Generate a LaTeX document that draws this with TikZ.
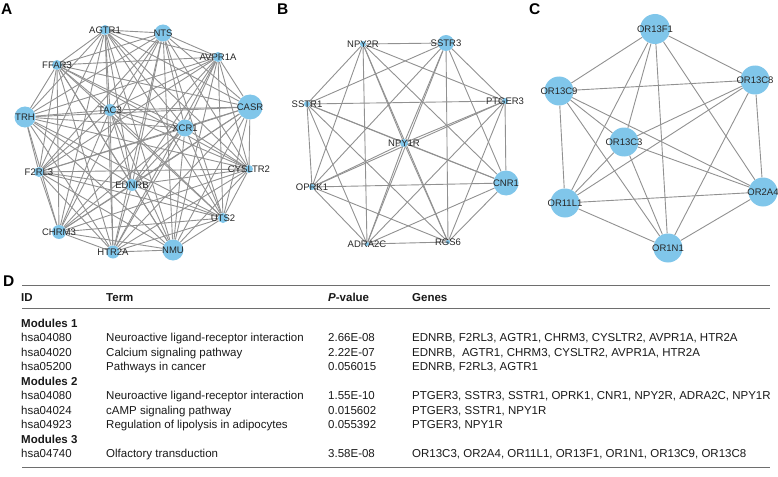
\documentclass[tikz,border=0pt]{standalone}
\usepackage{fontspec}
\setmainfont{Liberation Sans}
\usepackage{xcolor}

\definecolor{genebl}{RGB}{128,198,234}
\definecolor{linkgr}{RGB}{145,145,145}
\definecolor{rulegr}{RGB}{110,110,110}

\pgfdeclarelayer{links}
\pgfsetlayers{links,main}

\tikzset{
  gene/.style={circle, fill=genebl, inner sep=0pt, minimum size=#1},
  gene/.default=8pt,
  lbl/.style={font=\fontsize{9.5}{10}\selectfont, text=black!85, inner sep=0pt},
  link/.style={draw=linkgr, line width=0.9pt},
  panel/.style={font=\fontsize{15.5}{16}\selectfont\bfseries, anchor=base west, inner sep=0pt},
  cell/.style={font=\fontsize{11.5}{12}\selectfont, anchor=base west, inner sep=0pt, text=black!90},
  hcell/.style={cell, font=\fontsize{11.5}{12}\selectfont\bfseries},
  rulerow/.style={draw=rulegr, line width=1pt}
}

% gene: name, position, circle size, text
\newcommand{\gnode}[4]{%
  \node[gene=#3] (#1) at (#2) {};
  \node[lbl] (#1-l) at (#1) {#4};
}

\begin{document}
\begin{tikzpicture}[x=1pt, y=-1pt]
  \useasboundingbox (0,0) rectangle (778,476);

  % panel A
  \node[panel] (labA) at (1,15) {A};
  \gnode{agtr}{105,30}{10pt}{AGTR1}
  \gnode{nts}{163,33}{17pt}{NTS}
  \gnode{avpr}{218,57}{10pt}{AVPR1A}
  \gnode{ffar}{57,65}{10pt}{FFAR3}
  \gnode{trh}{25,117}{21pt}{TRH}
  \gnode{tac}{110,110}{12pt}{TAC3}
  \gnode{casr}{250,107}{25pt}{CASR}
  \gnode{xcr}{185,128}{17pt}{XCR1}
  \gnode{f2rl}{39,172}{10pt}{F2RL3}
  \gnode{cysl}{249,169}{8pt}{CYSLTR2}
  \gnode{ednrb}{132,185}{12pt}{EDNRB}
  \gnode{chrm}{59,232}{14pt}{CHRM3}
  \gnode{uts}{223,218}{10pt}{UTS2}
  \gnode{htr}{113,252}{13pt}{HTR2A}
  \gnode{nmu}{173,250}{21pt}{NMU}

  % panel B
  \node[panel] (labB) at (277,15) {B};
  \gnode{npytwo}{363,44}{6pt}{NPY2R}
  \gnode{ssttre}{446,43}{16pt}{SSTR3}
  \gnode{sstone}{307,104}{6pt}{SSTR1}
  \gnode{ptger}{505,101}{6pt}{PTGER3}
  \gnode{npyone}{404,143}{8pt}{NPY1R}
  \gnode{oprk}{312,187}{6pt}{OPRK1}
  \gnode{cnr}{506,183}{25pt}{CNR1}
  \gnode{adra}{367,244}{4pt}{ADRA2C}
  \gnode{rgs}{448,242}{4pt}{RGS6}

  % panel C
  \node[panel] (labC) at (529,15) {C};
  \gnode{fone}{655,29}{30pt}{OR13F1}
  \gnode{ceight}{755,80}{29pt}{OR13C8}
  \gnode{cnine}{559,91}{29pt}{OR13C9}
  \gnode{cthree}{624,142}{29pt}{OR13C3}
  \gnode{atwo}{763,192}{29pt}{OR2A4}
  \gnode{lone}{565,203}{29pt}{OR11L1}
  \gnode{none}{668,248}{29pt}{OR1N1}

  % links, every pair in each module
  \begin{pgfonlayer}{links}
  \foreach \netlist in {{agtr,nts,avpr,ffar,trh,tac,casr,xcr,f2rl,cysl,ednrb,chrm,uts,htr,nmu},
                        {npytwo,ssttre,sstone,ptger,npyone,oprk,cnr,adra,rgs},
                        {fone,ceight,cnine,cthree,atwo,lone,none}} {
    \foreach \a [count=\i] in \netlist {
      \foreach \b [count=\j] in \netlist {
        \ifnum\j>\i \draw[link] (\a) -- (\b); \fi
      }
    }
  }
  \end{pgfonlayer}

  % panel D
  \node[panel] (labD) at (3,286) {D};
  \draw[rulerow] (22,285) -- (770,285);
  \draw[rulerow] (22,308) -- (770,308);
  \draw[rulerow] (22,467) -- (770,467);

  \node[hcell] (hid) at (21,301) {ID};
  \node[hcell] (hterm) at (106,301) {Term};
  \node[hcell] (hpval) at (328,301) {\textit{P}-value};
  \node[hcell] (hgenes) at (412,301) {Genes};

  \node[hcell] (modone) at (21,327) {Modules 1};
  \node[cell] (ida) at (21,341.5) {hsa04080};
  \node[cell] (terma) at (106,341.5) {Neuroactive ligand-receptor interaction};
  \node[cell] (pa) at (328,341.5) {2.66E-08};
  \node[cell] (ga) at (412,341.5) {EDNRB, F2RL3, AGTR1, CHRM3, CYSLTR2, AVPR1A, HTR2A};
  \node[cell] (idb) at (21,356) {hsa04020};
  \node[cell] (termb) at (106,356) {Calcium signaling pathway};
  \node[cell] (pb) at (328,356) {2.22E-07};
  \node[cell] (gb) at (412,356) {EDNRB,\ \ AGTR1, CHRM3, CYSLTR2, AVPR1A, HTR2A};
  \node[cell] (idc) at (21,370.5) {hsa05200};
  \node[cell] (termc) at (106,370.5) {Pathways in cancer};
  \node[cell] (pc) at (328,370.5) {0.056015};
  \node[cell] (gc) at (412,370.5) {EDNRB, F2RL3, AGTR1};

  \node[hcell] (modtwo) at (21,385) {Modules 2};
  \node[cell] (idd) at (21,399.5) {hsa04080};
  \node[cell] (termd) at (106,399.5) {Neuroactive ligand-receptor interaction};
  \node[cell] (pd) at (328,399.5) {1.55E-10};
  \node[cell] (gd) at (412,399.5) {PTGER3, SSTR3, SSTR1, OPRK1, CNR1, NPY2R, ADRA2C, NPY1R};
  \node[cell] (ide) at (21,414) {hsa04024};
  \node[cell] (terme) at (106,414) {cAMP signaling pathway};
  \node[cell] (pe) at (328,414) {0.015602};
  \node[cell] (ge) at (412,414) {PTGER3, SSTR1, NPY1R};
  \node[cell] (idf) at (21,428.5) {hsa04923};
  \node[cell] (termf) at (106,428.5) {Regulation of lipolysis in adipocytes};
  \node[cell] (pf) at (328,428.5) {0.055392};
  \node[cell] (gf) at (412,428.5) {PTGER3, NPY1R};

  \node[hcell] (modthree) at (21,443) {Modules 3};
  \node[cell] (idg) at (21,457.5) {hsa04740};
  \node[cell] (termg) at (106,457.5) {Olfactory transduction};
  \node[cell] (pg) at (328,457.5) {3.58E-08};
  \node[cell] (gg) at (412,457.5) {OR13C3, OR2A4, OR11L1, OR13F1, OR1N1, OR13C9, OR13C8};
\end{tikzpicture}
\end{document}
